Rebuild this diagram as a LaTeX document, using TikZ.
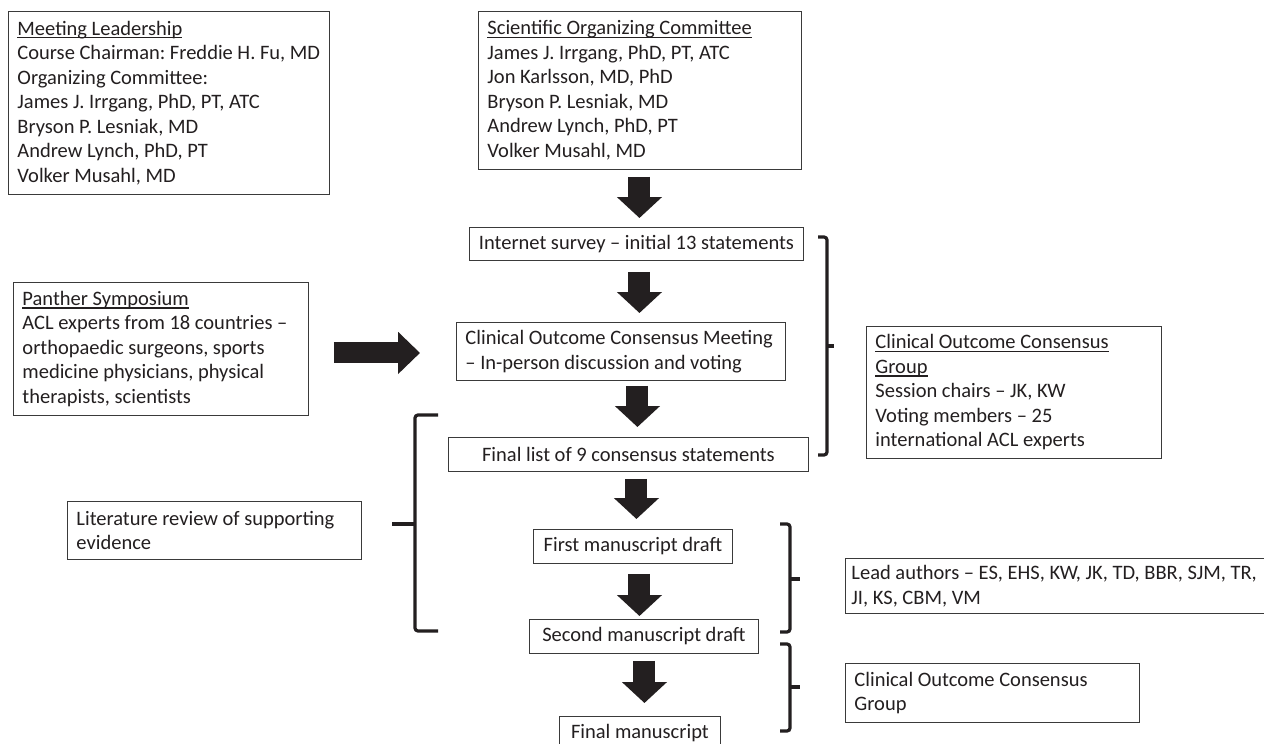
\documentclass[tikz,border=0pt]{standalone}
\usepackage{fontspec}
\setmainfont{Carlito}
\usetikzlibrary{arrows.meta}
\definecolor{boxc}{HTML}{3A3A3A}
\definecolor{ink}{HTML}{231F20}
\newcommand\myul[1]{\leavevmode\setbox0\hbox{#1}\rlap{\rule[-3.2pt]{\wd0}{1.4pt}}\box0}
\begin{document}
\begin{tikzpicture}[x=1pt,y=-1pt,
  box/.style={draw=boxc, line width=0.9pt, anchor=north west, inner xsep=9pt, inner ysep=0pt,
    font=\fontsize{20.5pt}{24.5pt}\selectfont, text=ink,
    execute at begin node={\frenchspacing\spaceskip=4.6pt plus 1pt minus 0.5pt\xspaceskip=4.6pt plus 1pt\relax}},
  lbox/.style={box, align=left},
  cbox/.style={box, align=center, inner xsep=2pt},
  blk/.style={draw=ink, line width=22pt, -{Triangle[width=44pt,length=21pt]}},
  hblk/.style={draw=ink, line width=21pt, -{Triangle[width=41pt,length=22pt]}},
  brk/.style={draw=ink, line width=3.2pt, rounded corners=3pt}]
\useasboundingbox[fill=white] (0,0) rectangle (1264,744);

% boxes
\node[lbox, text width=303pt, minimum height=183pt] (lead) at (8,11)
 {\myul{Meeting Leadership}\\\mbox{Course Chairman: Freddie H. Fu, MD}\\\mbox{Organizing Committee:}\\\mbox{James J. Irrgang, PhD, PT, ATC}\\\mbox{Bryson P. Lesniak, MD}\\\mbox{Andrew Lynch, PhD, PT}\\\mbox{Volker Musahl, MD}};
\node[lbox, text width=305pt, minimum height=158pt] (soc) at (478,11)
 {\myul{Scientific Organizing Committee}\\\mbox{James J. Irrgang, PhD, PT, ATC}\\\mbox{Jon Karlsson, MD, PhD}\\\mbox{Bryson P. Lesniak, MD}\\\mbox{Andrew Lynch, PhD, PT}\\\mbox{Volker Musahl, MD}};
\node[cbox, text width=330pt, minimum height=33pt] (survey) at (469,227)
 {\mbox{Internet survey – initial 13 statements}};
\node[lbox, text width=277pt, minimum height=133pt] (panther) at (13,282)
 {\myul{Panther Symposium}\\\mbox{ACL experts from 18 countries –}\\\mbox{orthopaedic surgeons, sports}\\\mbox{medicine physicians, physical}\\\mbox{therapists, scientists}};
\node[lbox, text width=311pt, minimum height=58pt] (meeting) at (456,322)
 {\mbox{Clinical Outcome Consensus Meeting}\\\mbox{– In-person discussion and voting}};
\node[cbox, text width=356pt, minimum height=34pt] (final) at (448,437)
 {\mbox{Final list of 9 consensus statements}};
\node[lbox, text width=277pt, minimum height=132pt] (coc) at (866,326)
 {\myul{Clinical Outcome Consensus}\\\myul{Group}\\\mbox{Session chairs – JK, KW}\\\mbox{Voting members – 25}\\\mbox{international ACL experts}};
\node[lbox, text width=276pt, minimum height=58pt] (lit) at (67,501)
 {\mbox{Literature review of supporting}\\evidence};
\node[cbox, text width=195pt, minimum height=34pt] (first) at (533,529)
 {\mbox{First manuscript draft}};
\node[cbox, text width=225pt, minimum height=34pt] (second) at (529,619)
 {\mbox{Second manuscript draft}};
\node[cbox, text width=157pt, minimum height=34pt] (finalms) at (559,716)
 {\mbox{Final manuscript}};
\node[lbox, inner xsep=6pt, text width=411pt, minimum height=55pt] (authors) at (845,558)
 {\mbox{Lead authors – ES, EHS, KW, JK, TD, BBR, SJM, TR,}\\\mbox{JI, KS, CBM, VM}};
\node[lbox, text width=276pt, minimum height=59pt] (coc2) at (845,663)
 {\mbox{Clinical Outcome Consensus}\\Group};

% block arrows
\draw[blk] ([xshift=-0.5pt,yshift=-7pt]soc.south) -- ([xshift=3pt,yshift=9pt]survey.north);
\draw[blk] ([xshift=3pt,yshift=-11pt]survey.south) -- ([xshift=18.5pt,yshift=9pt]meeting.north);
\draw[blk] ([xshift=16.5pt,yshift=-5pt]meeting.south) -- ([xshift=9pt,yshift=10pt]final.north);
\draw[blk] ([xshift=8pt,yshift=-7pt]final.south) -- ([xshift=3.5pt,yshift=10pt]first.north);
\draw[blk] ([xshift=6.5pt,yshift=-10pt]first.south) -- ([xshift=-4.5pt,yshift=3pt]second.north);
\draw[blk] ([xshift=0.5pt,yshift=-7pt]second.south) -- ([xshift=4.5pt,yshift=13pt]finalms.north);
\draw[hblk] ([xshift=25pt,yshift=-4pt]panther.east) -- ([xshift=-36pt,yshift=-1.5pt]meeting.west);

% brackets
\draw[brk] (818,237) -- (827,237) -- (827,455) -- (818,455);
\draw[brk] (827,346) -- (834,346);
\draw[brk] (438,415) -- (415,415) -- (415,631) -- (438,631);
\draw[brk] (392,524) -- (415,524);
\draw[brk] (780,524) -- (790,524) -- (790,632) -- (780,632);
\draw[brk] (790,579) -- (800,579);
\draw[brk] (780,644) -- (790,644) -- (790,731) -- (780,731);
\draw[brk] (790,687) -- (800,687);
\end{tikzpicture}
\end{document}
